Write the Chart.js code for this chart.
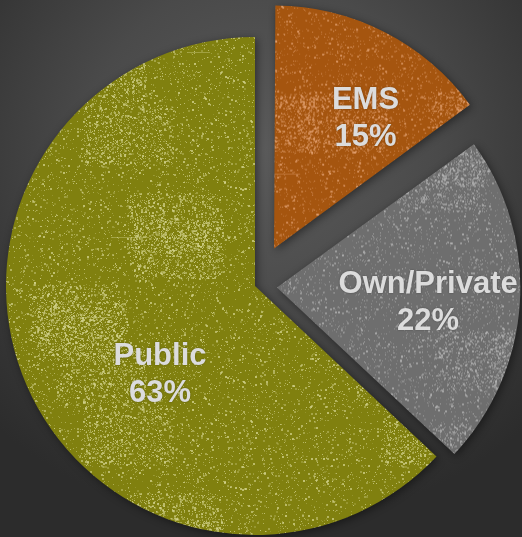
<!DOCTYPE html>
<html>
<head>
<meta charset="utf-8">
<script src="https://cdn.jsdelivr.net/npm/chart.js@4.4.1/dist/chart.umd.min.js"></script>
<style>
    html, body { margin: 0; padding: 0; }
    body {
        width: 522px;
        height: 537px;
        overflow: hidden;
        background: radial-gradient(ellipse 75% 70% at 50% 28%, #5b5b5b 0%, #4a4a4a 45%, #353535 80%, #2c2c2c 100%);
    }
    #chart { display: block; }
</style>
</head>
<body>
<canvas id="chart" width="522" height="537"></canvas>
<script>
// Chart data
const categories = ['EMS', 'Own/Private', 'Public'];
const shares = [15, 22, 63];
const pctLabels = ['15%', '22%', '63%'];

// Styling
const baseColors = ['#a5550f', '#6e6e6e', '#80800f'];
const speckColors = ['#e2a070', '#b4b4b4', '#d2d28c'];
const explode = [168, 88, 0];       // chart.js draws offset/4
const shrink = [14, 6, 0];          // exploded slices are a bit smaller
const labelFrac = [0.64, 0.61, 0.52];
const labelTurn = [8, 2, -19.4];    // degrees, clockwise from slice middle
const R = 249;

// grunge texture: fixed seed so it is the same every time
function seeded(seed) {
    return function() {
        seed |= 0; seed = seed + 0x6D2B79F5 | 0;
        let t = Math.imul(seed ^ seed >>> 15, 1 | seed);
        t = t + Math.imul(t ^ t >>> 7, 61 | t) ^ t;
        return ((t ^ t >>> 14) >>> 0) / 4294967296;
    };
}

function makeTexture(base, speck, seed) {
    const size = 300;
    const c = document.createElement('canvas');
    c.width = size;
    c.height = size;
    const g = c.getContext('2d');
    const rnd = seeded(seed);
    g.fillStyle = base;
    g.fillRect(0, 0, size, size);
    g.fillStyle = speck;
    // blotchy areas: more speckles around a few spots
    const spots = [];
    for (let k = 0; k < 6; k++) spots.push([rnd() * size, rnd() * size]);
    for (let i = 0; i < 11000; i++) {
        let x, y;
        if (rnd() < 0.45) {
            const sp = spots[Math.floor(rnd() * spots.length)];
            x = sp[0] + (rnd() - 0.5) * 90;
            y = sp[1] + (rnd() - 0.5) * 60;
        } else {
            x = rnd() * size;
            y = rnd() * size;
        }
        g.globalAlpha = 0.2 + rnd() * 0.6;
        const s = rnd() < 0.8 ? 1 : 2;
        g.fillRect(((Math.floor(x) % size) + size) % size, ((Math.floor(y) % size) + size) % size, s, s);
    }
    // a few faint scratches
    g.globalAlpha = 0.4;
    for (let i = 0; i < 3; i++) {
        g.fillRect(Math.floor(rnd() * size), Math.floor(rnd() * size), 15 + Math.floor(rnd() * 35), 1);
    }
    g.globalAlpha = 1;
    return g.createPattern(c, 'repeat');
}

const sliceFills = baseColors.map((b, i) => makeTexture(b, speckColors[i], 11 + i * 7));

// shadow under the slices + smaller exploded slices
const slicePlugin = {
    id: 'slices',
    afterDatasetUpdate(chart) {
        const meta = chart.getDatasetMeta(0);
        meta.data.forEach((arc, i) => {
            arc.outerRadius = R - shrink[i];
        });
    },
    beforeDatasetDraw(chart) {
        const ctx = chart.ctx;
        ctx.save();
        ctx.shadowColor = 'rgba(0,0,0,0.45)';
        ctx.shadowBlur = 8;
        ctx.shadowOffsetX = 2;
        ctx.shadowOffsetY = 2;
    },
    afterDatasetDraw(chart) {
        chart.ctx.restore();
    }
};

// two line labels inside each slice
const labelPlugin = {
    id: 'labels',
    afterDatasetsDraw(chart) {
        const ctx = chart.ctx;
        const meta = chart.getDatasetMeta(0);
        ctx.save();
        ctx.font = 'bold 31px "Liberation Sans", Arial, sans-serif';
        ctx.textAlign = 'center';
        ctx.textBaseline = 'middle';
        ctx.fillStyle = '#dcdcdc';
        ctx.shadowColor = 'rgba(0,0,0,0.35)';
        ctx.shadowBlur = 2;
        meta.data.forEach((arc, i) => {
            const mid = (arc.startAngle + arc.endAngle) / 2;
            const off = explode[i] / 4;
            const cx = arc.x + Math.cos(mid) * off;
            const cy = arc.y + Math.sin(mid) * off;
            const a = mid + labelTurn[i] * Math.PI / 180;
            const x = cx + Math.cos(a) * R * labelFrac[i];
            const y = cy + Math.sin(a) * R * labelFrac[i];
            ctx.fillText(categories[i], x, y - 18);
            ctx.fillText(pctLabels[i], x, y + 19);
        });
        ctx.restore();
    }
};

new Chart(document.getElementById('chart').getContext('2d'), {
    type: 'pie',
    data: {
        labels: categories,
        datasets: [{
            data: shares,
            backgroundColor: sliceFills,
            borderWidth: 0,
            offset: explode
        }]
    },
    options: {
        responsive: false,
        animation: false,
        events: [],
        radius: R,
        layout: { padding: { left: 0, right: 12, top: 35, bottom: 0 } },
        plugins: {
            legend: { display: false },
            tooltip: { enabled: false }
        }
    },
    plugins: [slicePlugin, labelPlugin]
});
</script>
</body>
</html>
